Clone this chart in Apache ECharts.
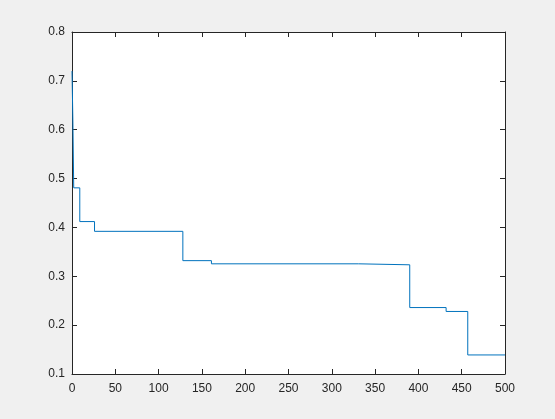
<!DOCTYPE html>
<html><head><meta charset="utf-8">
<script src="https://cdn.jsdelivr.net/npm/echarts@6/dist/echarts.min.js"></script>
<style>html,body{margin:0;padding:0;background:#f0f0f0;}#c{width:555px;height:419px;}</style>
</head><body><div id="c"></div>
<script>
const xs = [0, 1, 2, 9, 26, 128, 161, 331, 390, 432, 457, 500];
const ys = [0.72, 0.62, 0.481, 0.412, 0.392, 0.332, 0.3255, 0.3235, 0.236, 0.228, 0.139, 0.139];
const xTicks = [0, 50, 100, 150, 200, 250, 300, 350, 400, 450, 500];
const yTicks = [0.1, 0.2, 0.3, 0.4, 0.5, 0.6, 0.7, 0.8];

const font = 'Liberation Sans, Arial, sans-serif';
const axColor = '#262626';
const chart = echarts.init(document.getElementById('c'), null, {renderer: 'canvas'});
const baseX = {type: 'value', min: 0, max: 500, interval: 50,
  axisLine: {show: true, onZero: false, lineStyle: {color: axColor, width: 1}},
  axisTick: {show: true, inside: true, length: 5, lineStyle: {color: axColor}},
  splitLine: {show: false}};
const baseY = {type: 'value', min: 0.1, max: 0.8, interval: 0.1,
  axisLine: {show: true, onZero: false, lineStyle: {color: axColor, width: 1}},
  axisTick: {show: true, inside: true, length: 5, lineStyle: {color: axColor}},
  splitLine: {show: false}};
chart.setOption({
  backgroundColor: '#f0f0f0',
  animation: false,
  grid: {left: 72, right: 50, top: 32, bottom: 45, show: true, backgroundColor: '#ffffff', borderWidth: 0},
  xAxis: [
    Object.assign({}, baseX, {position: 'bottom',
      axisLabel: {show: true, color: axColor, fontFamily: font, fontSize: 12, margin: 9,
        formatter: v => xTicks.includes(v) ? String(v) : ''}}),
    Object.assign({}, baseX, {position: 'top', axisLabel: {show: false}})
  ],
  yAxis: [
    Object.assign({}, baseY, {position: 'left',
      axisLabel: {show: true, color: axColor, fontFamily: font, fontSize: 12, margin: 7,
        formatter: v => { const t = yTicks.find(t => Math.abs(t - v) < 1e-6); return t === undefined ? '' : t.toFixed(1); }}}),
    Object.assign({}, baseY, {position: 'right', axisLabel: {show: false}})
  ],
  series: [{
    type: 'line', step: 'end', showSymbol: false, symbol: 'none',
    xAxisIndex: 0, yAxisIndex: 0,
    lineStyle: {color: '#0072BD', width: 1},
    data: xs.map((x, i) => [x, ys[i]])
  }]
});
</script></body></html>
